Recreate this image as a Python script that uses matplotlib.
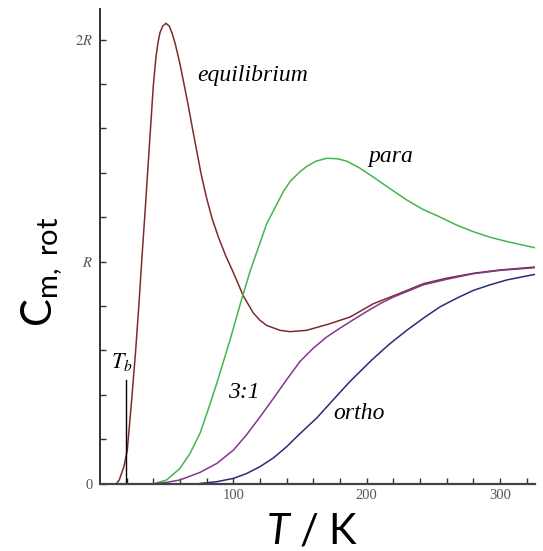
import numpy as np
import matplotlib
matplotlib.use('Agg')
import matplotlib.pyplot as plt

# rotational heat capacity of H2, in units of R, against T / K
T_eq = [12.5, 14.5, 18, 20.5, 23.8, 26.8, 29.5, 31.3, 33.8, 36.3, 38.8, 40, 42, 43.5, 45, 47,
        49.5, 52, 54, 56.5, 60, 63, 66.3, 69.5, 72.5, 76, 80, 84, 88.8, 94, 100, 107.5,
        115, 120, 125, 135, 142.5, 155, 172.5, 187.5, 205, 222, 242.5, 260, 280, 300, 326]
C_eq = [0, 0.016, 0.076, 0.15, 0.376, 0.60, 0.83, 1.0, 1.22, 1.45, 1.68, 1.79, 1.92, 1.985, 2.03, 2.06,
        2.073, 2.06, 2.03, 1.98, 1.89, 1.80, 1.70, 1.595, 1.50, 1.39, 1.285, 1.195, 1.11, 1.03, 0.95, 0.845,
        0.768, 0.735, 0.712, 0.69, 0.684, 0.69, 0.72, 0.75, 0.81, 0.85, 0.90, 0.925, 0.947, 0.962, 0.975]

T_para = [41, 50, 60, 67.5, 75, 81, 87.5, 97.5, 106, 112.5, 125, 137.5, 142.5, 150, 155, 162, 170,
          178, 185, 195, 205, 217, 230, 242, 255, 267, 280, 292, 305, 326]
C_para = [0, 0.016, 0.068, 0.135, 0.226, 0.33, 0.45, 0.646, 0.825, 0.955, 1.17, 1.315, 1.36, 1.405, 1.428, 1.452, 1.465,
          1.463, 1.452, 1.42, 1.38, 1.33, 1.277, 1.235, 1.20, 1.165, 1.134, 1.11, 1.09, 1.062]

T_31 = [42.5, 50, 60, 75, 87.5, 100, 110, 120, 130, 140, 150, 160, 170, 180, 190,
        200, 210, 220, 242.5, 260, 280, 300, 326]
C_31 = [0, 0.005, 0.016, 0.05, 0.09, 0.15, 0.22, 0.30, 0.383, 0.468, 0.55, 0.61, 0.66, 0.70, 0.738,
        0.775, 0.81, 0.84, 0.895, 0.92, 0.945, 0.96, 0.972]

T_ortho = [75, 87.5, 100, 110, 120, 130, 140, 150, 162.5, 175, 187.5, 203.7, 217, 230,
           242.5, 255, 267.5, 280, 292.5, 305, 326]
C_ortho = [0, 0.008, 0.023, 0.045, 0.076, 0.115, 0.166, 0.225, 0.295, 0.378, 0.46, 0.556, 0.628, 0.69,
           0.745, 0.796, 0.835, 0.87, 0.895, 0.917, 0.942]

T_boil = 19.5
Tb_top = 0.466

ytick_vals = [0, 0.2, 0.4, 0.6, 0.8, 1.0, 1.2, 1.4, 1.6, 1.8, 2.0]
ytick_labels = ['0', '', '', '', '', '$R$', '', '', '', '', '$2R$']
xtick_vals = [20, 40, 60, 80, 100, 120, 140, 160, 180, 200, 220, 240, 260, 280, 300, 320]
xtick_labels = ['', '', '', '', '100', '', '', '', '', '200', '', '', '', '', '300', '']

plt.rcParams['mathtext.fontset'] = 'custom'
plt.rcParams['mathtext.rm'] = 'Lato'
plt.rcParams['mathtext.it'] = 'Lato:italic'

fig = plt.figure(figsize=(5.43, 5.51), dpi=100)
ax = fig.add_axes([0.184, 0.1225, 0.801, 0.8606])

ax.plot(T_eq, C_eq, color='#7d2b2e', lw=1.1)
ax.plot(T_para, C_para, color='#45b54e', lw=1.1)
ax.plot(T_31, C_31, color='#80398a', lw=1.1)
ax.plot(T_ortho, C_ortho, color='#2b2a7c', lw=1.1)
ax.plot([T_boil, T_boil], [0, Tb_top], color='black', lw=1.0)

ax.set_xlim(0, 326)
ax.set_ylim(0, 2.136)

for s in ['top', 'right']:
    ax.spines[s].set_visible(False)
ax.spines['left'].set_color('#333333')
ax.spines['left'].set_linewidth(1.4)
ax.spines['bottom'].set_color('#444444')
ax.spines['bottom'].set_linewidth(1.6)

ax.set_xticks(xtick_vals)
ax.set_xticklabels(xtick_labels, family='Liberation Serif', fontsize=10.5, color='#555555')
ax.set_yticks(ytick_vals)
ax.set_yticklabels(ytick_labels, family='Liberation Serif', fontsize=10.5, color='#555555')
for lab in ax.get_yticklabels():
    lab.set_math_fontfamily('stix')
ax.tick_params(direction='in', length=4.5, width=1.0, color='#333333')
ax.tick_params(axis='x', pad=4)
ax.tick_params(axis='y', pad=5)

ax.set_xlabel(r'$T$ / K', family='Lato', fontsize=30, va='center')
ax.xaxis.set_label_coords(0.487, -0.102)
ax.set_ylabel(r'C$_{\mathrm{m,\ rot}}$', family='Lato', fontsize=30, va='center')
ax.yaxis.set_label_coords(-0.133, 0.446)

lab_kw = dict(family='Liberation Serif', style='italic', fontsize=17, ha='center', va='baseline')
ax.text(114.8, 1.813, 'equilibrium', **lab_kw)
ax.text(218, 1.45, 'para', **lab_kw)
ax.text(108, 0.384, '3:1', **lab_kw)
ax.text(194.3, 0.289, 'ortho', **lab_kw)
ax.text(8.0, 0.52, r'$T_b$', fontsize=16, ha='left', va='baseline', math_fontfamily='stix')

fig.savefig('out.png', dpi=100)
